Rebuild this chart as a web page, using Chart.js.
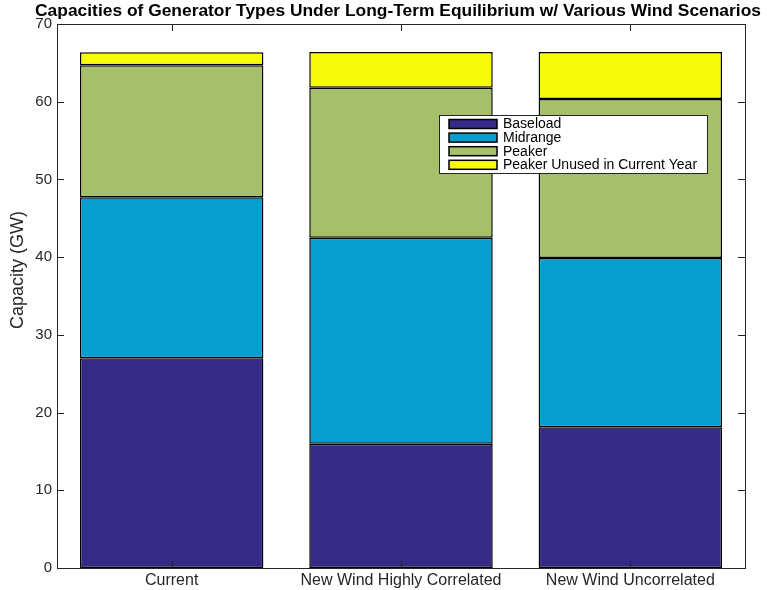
<!DOCTYPE html>
<html>
<head>
<meta charset="utf-8">
<script src="https://cdn.jsdelivr.net/npm/chart.js@4/dist/chart.umd.min.js"></script>
<style>
  html, body { margin: 0; padding: 0; background: #fff; }
  #wrap { width: 767px; height: 590px; }
</style>
</head>
<body>
<div id="wrap"><canvas id="chart" width="767" height="590"></canvas></div>
<script>
/* data */
const categories = ["Current", "New Wind Highly Correlated", "New Wind Uncorrelated"];
const baseload = [27.0, 16.0, 18.1];
const midrange = [20.7, 26.5, 21.8];
const peaker = [17.0, 19.3, 20.45];
const peakerUnused = [1.65, 4.6, 6.05];
const yTicks = [0, 10, 20, 30, 40, 50, 60, 70];

const titleText = "Capacities of Generator Types Under Long-Term Equilibrium w/ Various Wind Scenarios";
const yTitle = "Capacity (GW)";
const axisColor = "#262626";
const fontFamily = "'Liberation Sans', Arial, Helvetica, sans-serif";

// box, inward ticks, title, y label and legend, drawn the matlab way
const matlabAxes = {
    id: "matlabAxes",
    afterDraw(chart) {
        const ctx = chart.ctx;
        const a = chart.chartArea;
        const x = chart.scales.x;
        const y = chart.scales.y;
        const tl = 7;
        ctx.save();
        ctx.strokeStyle = axisColor;
        ctx.lineWidth = 1;
        ctx.strokeRect(a.left + 0.5, a.top + 0.5, a.right - a.left, a.bottom - a.top);

        ctx.beginPath();
        yTicks.forEach(v => {
            const py = Math.round(y.getPixelForValue(v)) + 0.5;
            ctx.moveTo(a.left, py); ctx.lineTo(a.left + tl, py);
            ctx.moveTo(a.right, py); ctx.lineTo(a.right - tl, py);
        });
        categories.forEach((c, i) => {
            const px = Math.round(x.getPixelForValue(i)) + 0.5;
            ctx.moveTo(px, a.top); ctx.lineTo(px, a.top + tl);
            ctx.moveTo(px, a.bottom); ctx.lineTo(px, a.bottom - tl);
        });
        ctx.stroke();

        // title
        ctx.fillStyle = "#000";
        ctx.font = "bold 17.4px " + fontFamily;
        ctx.textAlign = "center";
        ctx.textBaseline = "middle";
        ctx.fillText(titleText, 398, 11);

        // y axis label
        ctx.save();
        ctx.translate(18, 270);
        ctx.rotate(-Math.PI / 2);
        ctx.fillStyle = axisColor;
        ctx.font = "18px " + fontFamily;
        ctx.fillText(yTitle, 0, 0);
        ctx.restore();

        // legend
        const lx = 439, ly = 115, lw = 268, lh = 58;
        ctx.fillStyle = "#fff";
        ctx.fillRect(lx, ly, lw, lh);
        ctx.strokeStyle = axisColor;
        ctx.lineWidth = 1;
        ctx.strokeRect(lx + 0.5, ly + 0.5, lw, lh);
        ctx.font = "14px " + fontFamily;
        ctx.textAlign = "left";
        chart.data.datasets.forEach((ds, i) => {
            const cy = 124 + i * 13.6;
            ctx.fillStyle = ds.backgroundColor;
            ctx.fillRect(449, cy - 4.5, 48, 9);
            ctx.strokeStyle = "#000";
            ctx.lineWidth = 1.5;
            ctx.strokeRect(449, cy - 4.5, 48, 9);
            ctx.fillStyle = "#000";
            ctx.fillText(ds.label, 503, cy + 0.5);
        });
        ctx.restore();
    }
};

const data = {
    labels: categories,
    datasets: [
        { label: "Baseload", data: baseload, backgroundColor: "#352a86" },
        { label: "Midrange", data: midrange, backgroundColor: "#079ecf" },
        { label: "Peaker", data: peaker, backgroundColor: "#a5bf6b" },
        { label: "Peaker Unused in Current Year", data: peakerUnused, backgroundColor: "#f8fa0c" }
    ].map(ds => Object.assign(ds, {
        borderColor: "#000",
        borderWidth: 1.5,
        borderSkipped: false,
        categoryPercentage: 1.0,
        barPercentage: 0.8
    }))
};

const config = {
    type: "bar",
    data: data,
    options: {
        responsive: false,
        animation: false,
        layout: { padding: { top: 24, right: 22, left: 0, bottom: 0 } },
        plugins: {
            legend: { display: false },
            title: { display: false },
            tooltip: { enabled: false }
        },
        scales: {
            x: {
                stacked: true,
                grid: { display: false, drawTicks: false },
                border: { display: false },
                ticks: { color: axisColor, font: { family: fontFamily, size: 16 }, padding: 3, maxRotation: 0 },
                afterFit: s => { s.height = 22; }
            },
            y: {
                stacked: true,
                min: 0,
                max: 70,
                grid: { display: false, drawTicks: false },
                border: { display: false },
                ticks: { stepSize: 10, color: axisColor, font: { family: fontFamily, size: 15 }, padding: 5 },
                afterFit: s => { s.width = 57; }
            }
        }
    },
    plugins: [matlabAxes]
};

const ctx = document.getElementById("chart").getContext("2d");
const chart = new Chart(ctx, config);
</script>
</body>
</html>
